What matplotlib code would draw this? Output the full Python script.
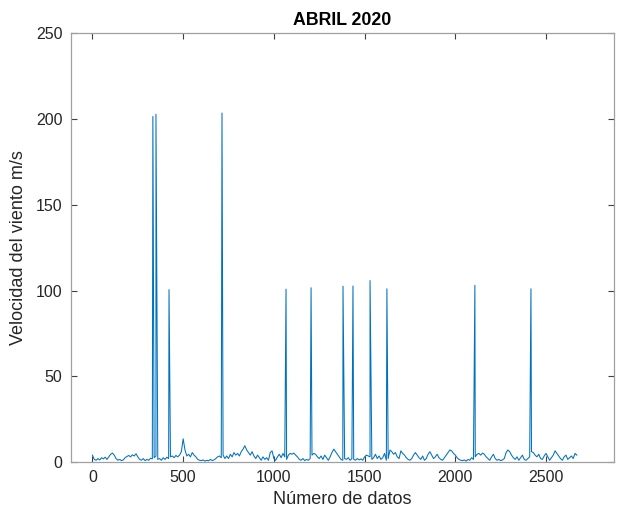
import matplotlib
matplotlib.use("Agg")
import matplotlib.pyplot as plt
import numpy as np

plt.rcParams['font.family'] = ['Liberation Sans', 'DejaVu Sans']

# baseline wind speed, one reading every 10 samples
base_step = 10
base_speed = [
    4.0, 1.5, 1.0, 2.0, 1.2, 2.5, 1.8, 2.8, 1.5, 3.0, 4.5, 5.2, 4.0, 2.0, 1.0, 1.5, 0.8, 1.2, 2.5, 3.2,
    3.8, 3.0, 4.2, 3.5, 4.8, 3.0, 1.5, 1.0, 2.0, 0.8, 1.5, 1.0, 2.2, 1.8, 2.5, 3.5, 1.5, 2.0, 1.0, 2.5,
    1.5, 2.8, 2.0, 3.0, 3.5, 2.5, 3.8, 3.0, 4.0, 6.0, 13.5, 7.0, 3.5, 4.5, 3.0, 5.5, 4.0, 3.0, 1.5, 1.0,
    0.8, 1.2, 0.5, 1.0, 0.7, 1.5, 0.8, 1.2, 2.0, 3.0, 3.5, 2.5, 4.0, 2.0, 3.5, 2.0, 4.5, 3.0, 5.5, 4.0,
    5.0, 3.5, 6.0, 7.5, 9.5, 7.0, 5.5, 4.0, 6.0, 3.5, 2.0, 4.0, 2.5, 1.0, 3.0, 1.5, 2.5, 1.0, 5.5, 6.5,
    2.0, 1.0, 3.0, 4.5, 2.5, 5.0, 3.0, 1.5, 4.0, 5.0, 4.5, 5.2, 4.0, 3.0, 1.5, 1.0, 2.0, 0.8, 1.5, 1.0,
    2.0, 4.0, 5.0, 4.5, 3.0, 2.0, 3.5, 1.5, 4.0, 2.5, 1.0, 3.0, 5.5, 7.5, 6.0, 4.5, 3.0, 1.5, 1.0, 2.0,
    1.5, 2.5, 1.0, 2.0, 1.5, 1.0, 2.0, 1.2, 1.8, 1.0, 3.0, 4.0, 3.5, 3.0, 1.5, 2.5, 4.5, 2.0, 3.5, 1.5,
    2.5, 5.0, 1.0, 2.0, 7.0, 6.0, 4.5, 5.5, 3.0, 2.0, 6.5, 5.0, 4.0, 2.5, 1.5, 1.0, 2.0, 4.0, 5.5, 4.0,
    2.5, 1.5, 3.5, 1.0, 2.0, 4.5, 6.0, 4.0, 2.0, 3.0, 4.5, 2.5, 1.5, 1.0, 2.5, 4.0, 5.5, 7.0, 6.5, 5.0,
    4.0, 2.5, 1.5, 1.0, 0.8, 1.2, 0.5, 1.5, 1.0, 2.5, 1.5, 3.0, 4.5, 5.0, 4.0, 5.2, 4.5, 3.0, 2.0, 1.0,
    3.0, 4.5, 2.0, 1.0, 1.5, 0.8, 1.2, 2.0, 5.5, 7.0, 6.0, 4.0, 2.5, 1.5, 3.0, 1.0, 2.5, 4.0, 1.5, 1.0,
    2.0, 3.0, 6.0, 5.5, 4.0, 3.0, 4.5, 2.0, 1.5, 3.5, 5.0, 3.0, 1.0, 2.5, 4.0, 6.5, 5.0, 3.5, 2.0, 1.0,
    3.0, 4.0, 1.5, 2.5, 3.5, 2.0, 5.0, 4.0,
]

# single-sample spikes (erroneous readings)
spike_idx = [333, 350, 422, 714, 1067, 1205, 1381, 1436, 1530, 1623, 2108, 2417]
spike_val = [201.5, 202.8, 100.5, 203.5, 100.8, 101.6, 102.5, 102.6, 105.8, 101.0, 103.0, 101.0]

base_idx = np.arange(len(base_speed)) * base_step
x = np.concatenate([base_idx, spike_idx])
y = np.concatenate([base_speed, spike_val])
order = np.argsort(x, kind="stable")
x, y = x[order], y[order]

fig = plt.figure(figsize=(6.19, 5.14), dpi=100)
ax = fig.add_axes([0.1142, 0.1012, 0.8772, 0.834])
ax.plot(x, y, color="#0072BD", linewidth=0.75)

ax.set_xlim(-120, 2873)
ax.set_ylim(0, 250)
ax.set_xticks([0, 500, 1000, 1500, 2000, 2500])
ax.set_yticks([0, 50, 100, 150, 200, 250])

for s in ax.spines.values():
    s.set_color("#a0a0a0")
    s.set_linewidth(0.9)
ax.tick_params(direction="in", length=4, width=0.8, color="#404040",
               top=True, right=True, labelsize=11.5, labelcolor="#262626", pad=6)

ax.set_title("ABRIL 2020", fontsize=12.8, fontweight="bold", pad=6)
ax.set_xlabel("Número de datos", fontsize=13, color="#262626", labelpad=4)
ax.set_ylabel("Velocidad del viento m/s", fontsize=13, color="#262626", labelpad=6)

fig.savefig("out.png", dpi=100)
